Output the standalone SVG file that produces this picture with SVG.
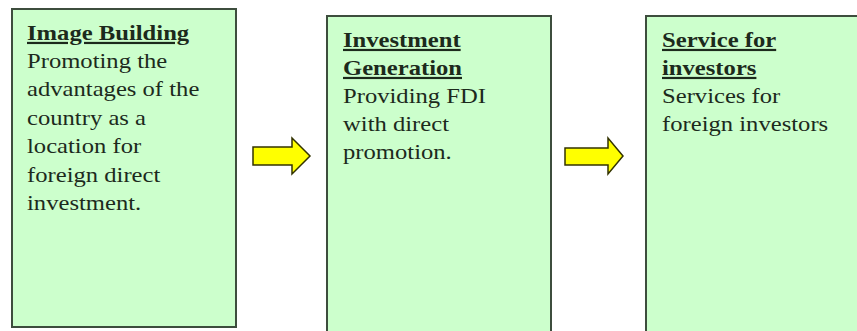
<svg xmlns="http://www.w3.org/2000/svg" width="857" height="331" viewBox="0 0 857 331">
<style>
.box{fill:#ccffcc;stroke:#3d4d3d;stroke-width:2}
.t{font-family:"Liberation Serif","Times New Roman",serif;font-size:22px;fill:#1c2a1c}
.h{font-weight:bold;text-decoration:underline}
.arrow{fill:#ffff00;stroke:#333300;stroke-width:1.5;stroke-linejoin:miter}
</style>
<rect width="857" height="331" fill="#ffffff"/>
<g id="node-image-building">
<rect class="box" x="12" y="9" width="224" height="318"/>
<g transform="translate(27 0) scale(1.12 1)">
<text class="t h" x="0" y="40">Image Building</text>
<text class="t" x="0" y="68">Promoting the</text>
<text class="t" x="0" y="96.5">advantages of the</text>
<text class="t" x="0" y="125">country as a</text>
<text class="t" x="0" y="153.5">location for</text>
<text class="t" x="0" y="182">foreign direct</text>
<text class="t" x="0" y="210.5">investment.</text>
</g>
</g>
<g id="node-investment-generation">
<rect class="box" x="327" y="16" width="224" height="330"/>
<g transform="translate(343 0) scale(1.12 1)">
<text class="t h" x="0" y="47">Investment</text>
<text class="t h" x="0" y="75">Generation</text>
<text class="t" x="0" y="103">Providing FDI</text>
<text class="t" x="0" y="131">with direct</text>
<text class="t" x="0" y="159">promotion.</text>
</g>
</g>
<g id="node-service-for-investors">
<rect class="box" x="646" y="16" width="230" height="330"/>
<g transform="translate(662 0) scale(1.12 1)">
<text class="t h" x="0" y="47">Service for</text>
<text class="t h" x="0" y="75">investors</text>
<text class="t" x="0" y="103">Services for</text>
<text class="t" x="0" y="131">foreign investors</text>
</g>
</g>
<g id="connectors">
<polygon class="arrow" points="253,147 292,147 292,138 310,156 292,174 292,165 253,165"/>
<polygon class="arrow" points="565,148 608,148 608,138 623,156 608,174 608,165 565,165"/>
</g>
</svg>
